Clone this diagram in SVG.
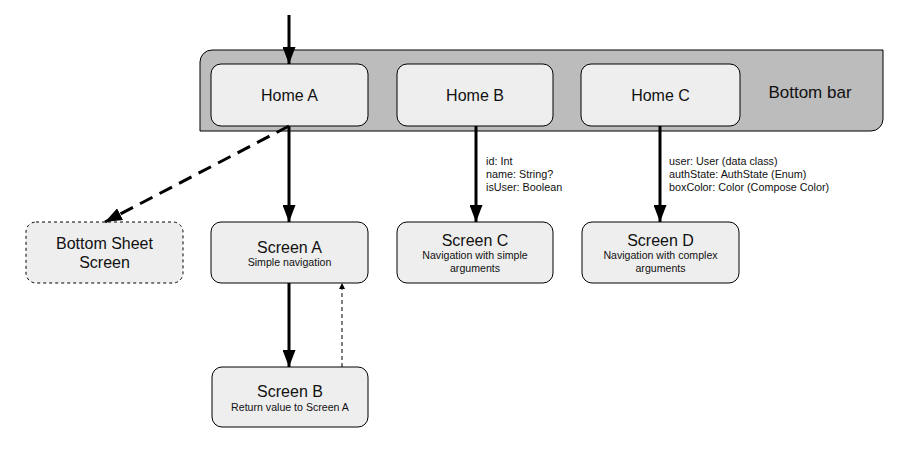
<svg xmlns="http://www.w3.org/2000/svg" width="906" height="476" viewBox="0 0 906 476">
<style>
.node rect{fill:#eeeeee;stroke:#000;stroke-width:1}
.t{font-family:"Liberation Sans",Arial,sans-serif;fill:#111;text-anchor:middle}
.big{font-size:16px}
.sm{font-size:10.6px}
.lbl{font-family:"Liberation Sans",Arial,sans-serif;fill:#111;font-size:10.8px}
.thick{stroke:#000;stroke-width:3;fill:none}
</style>
<defs>
<marker id="ah2" viewBox="0 0 17 13" refX="17" refY="6.5" markerWidth="17" markerHeight="13" markerUnits="userSpaceOnUse" orient="auto">
<path d="M0,0 L17,6.5 L0,13 Z" fill="#000"/>
</marker>
<marker id="sm" viewBox="0 0 6 6" refX="6" refY="3" markerWidth="6" markerHeight="6" markerUnits="userSpaceOnUse" orient="auto">
<path d="M0,0 L6,3 L0,6 Z" fill="#000"/>
</marker>
</defs>
<g id="bottom-bar">
<path d="M212,50 H883 V119 A12,12 0 0 1 871,131 H200 V62 A12,12 0 0 1 212,50 Z" fill="#bcbcbc" stroke="#000" stroke-width="1"/>
<text class="t" style="font-size:17px" x="810" y="98">Bottom bar</text>
</g>
<g id="home-a" class="node"><rect x="211" y="64" width="157" height="62" rx="10"/><text class="t big" x="289.5" y="101">Home A</text></g>
<g id="home-b" class="node"><rect x="397" y="64" width="156" height="62" rx="10"/><text class="t big" x="475" y="101">Home B</text></g>
<g id="home-c" class="node"><rect x="581" y="64" width="159" height="62" rx="10"/><text class="t big" x="660.5" y="101">Home C</text></g>
<g id="bottom-sheet" class="node"><rect x="26" y="222" width="157" height="61" rx="10" style="stroke-dasharray:3 3"/><text class="t big" x="104.5" y="249">Bottom Sheet</text><text class="t big" x="104.5" y="268">Screen</text></g>
<g id="screen-a" class="node"><rect x="211" y="222" width="157" height="61" rx="10"/><text class="t big" x="289.5" y="253">Screen A</text><text class="t sm" x="289.5" y="266">Simple navigation</text></g>
<g id="screen-c" class="node"><rect x="397" y="222" width="156" height="61" rx="10"/><text class="t big" x="475" y="246">Screen C</text><text class="t sm" x="475" y="259">Navigation with simple</text><text class="t sm" x="475" y="272">arguments</text></g>
<g id="screen-d" class="node"><rect x="582" y="222" width="157" height="61" rx="10"/><text class="t big" x="660.5" y="246">Screen D</text><text class="t sm" x="660.5" y="259">Navigation with complex</text><text class="t sm" x="660.5" y="272">arguments</text></g>
<g id="screen-b" class="node"><rect x="212" y="367" width="156" height="60" rx="10"/><text class="t big" x="290" y="397">Screen B</text><text class="t sm" x="290" y="411">Return value to Screen A</text></g>
<g id="connectors">
<line class="thick" x1="289" y1="15" x2="289" y2="64" marker-end="url(#ah2)"/>
<line class="thick" x1="289" y1="126" x2="289" y2="222" marker-end="url(#ah2)"/>
<line class="thick" x1="289" y1="126" x2="105" y2="222" style="stroke-dasharray:14 8" marker-end="url(#ah2)"/>
<line class="thick" x1="476" y1="126" x2="476" y2="222" marker-end="url(#ah2)"/>
<line class="thick" x1="660" y1="126" x2="660" y2="222" marker-end="url(#ah2)"/>
<line class="thick" x1="289" y1="283" x2="289" y2="367" marker-end="url(#ah2)"/>
<line x1="342" y1="367" x2="342" y2="283" stroke="#000" stroke-width="1" stroke-dasharray="4 3" fill="none" marker-end="url(#sm)"/>
</g>
<g id="labels">
<text class="lbl" x="486" y="165">id: Int</text>
<text class="lbl" x="486" y="178">name: String?</text>
<text class="lbl" x="486" y="191">isUser: Boolean</text>
<text class="lbl" x="669" y="165">user: User (data class)</text>
<text class="lbl" x="669" y="178">authState: AuthState (Enum)</text>
<text class="lbl" x="669" y="191">boxColor: Color (Compose Color)</text>
</g>
</svg>
